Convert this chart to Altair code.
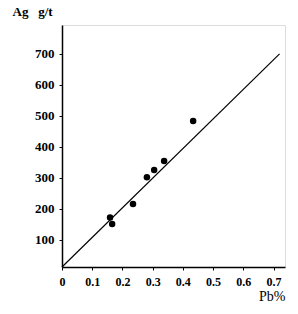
import altair as alt
import pandas as pd

pb = [0.159, 0.166, 0.235, 0.281, 0.305, 0.338, 0.434]
ag = [172, 151, 215, 302, 325, 354, 483]
line_x = [0.0, 0.72]
line_y = [12.0, 700.0]
x_ticks = [0, 0.1, 0.2, 0.3, 0.4, 0.5, 0.6, 0.7]
y_ticks = [100, 200, 300, 400, 500, 600, 700]

pts = pd.DataFrame({"pb": pb, "ag": ag})
ln = pd.DataFrame({"pb": line_x, "ag": line_y})

font = "Liberation Serif"

xs = alt.Scale(domain=[0, 0.738], nice=False, zero=False)
ys = alt.Scale(domain=[12, 793], nice=False, zero=False)

xaxis = alt.Axis(values=x_ticks, tickCount=8, grid=False, title="Pb%",
                 labelExpr="datum.value == 0 ? '0' : format(datum.value, '.1f')",
                 labelOverlap=False, labelBound=False,
                 titleAngle=0, titleAlign="right", titleX=223, titleY=33,
                 titleBaseline="alphabetic", titleFont=font, titleFontSize=14,
                 titleFontWeight="normal", titleColor="black",
                 labelFont=font, labelFontSize=12, labelFontWeight="bold",
                 labelColor="black", labelPadding=6, tickSize=3, tickColor="black",
                 domainColor="black", domainWidth=1.5, labelFlush=False)
yaxis = alt.Axis(values=y_ticks, grid=False, title="Ag\u00a0\u00a0\u00a0g/t",
                 labelOverlap=False,
                 titleAngle=0, titleAlign="left", titleX=-50, titleY=-10,
                 titleBaseline="alphabetic", titleFont=font, titleFontSize=13,
                 titleFontWeight="bold", titleColor="black",
                 labelFont=font, labelFontSize=13, labelFontWeight="bold",
                 labelColor="black", labelPadding=5, tickSize=3, tickColor="black",
                 domainColor="black", domainWidth=1.5)

line = alt.Chart(ln).mark_line(color="black", strokeWidth=1.2).encode(
    x=alt.X("pb:Q", scale=xs, axis=xaxis),
    y=alt.Y("ag:Q", scale=ys, axis=yaxis),
)
points = alt.Chart(pts).mark_circle(color="black", opacity=1, size=42).encode(
    x=alt.X("pb:Q", scale=xs, axis=xaxis),
    y=alt.Y("ag:Q", scale=ys, axis=yaxis),
)

chart = (line + points).properties(
    width=223, height=242,
    autosize=alt.AutoSizeParams(type="none"),
    padding={"left": 62, "top": 25, "right": 13, "bottom": 47},
).configure_view(stroke=None).configure(background="white")

chart.save("out.html", embed_options={"renderer": "svg", "actions": False})
